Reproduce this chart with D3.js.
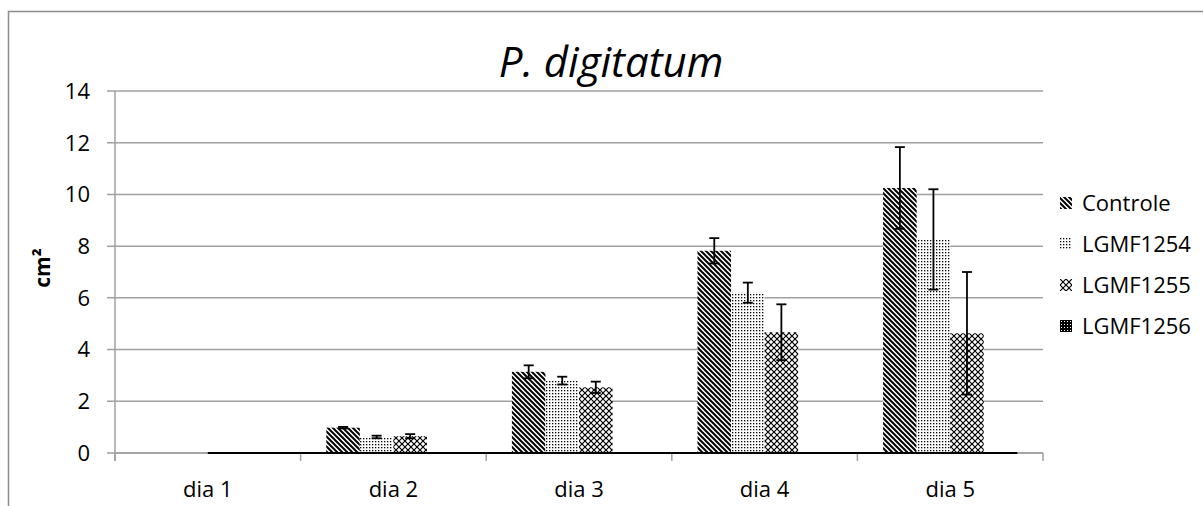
<!DOCTYPE html>
<html>
<head>
<meta charset="utf-8">
<script src="https://cdn.jsdelivr.net/npm/d3@7"></script>
<style>
  body { margin: 0; background: #fff; }
  svg { display: block; font-family: "Open Sans", sans-serif; }
</style>
</head>
<body>
<div id="app"></div>
<script>
// dados
const days = ['dia 1', 'dia 2', 'dia 3', 'dia 4', 'dia 5'];
const seriesNames = ['Controle', 'LGMF1254', 'LGMF1255', 'LGMF1256'];
const controle = [0, 0.98, 3.14, 7.82, 10.25];
const controleErr = [0, 0.03, 0.25, 0.49, 1.58];
const lgmf1254 = [0, 0.62, 2.80, 6.20, 8.26];
const lgmf1254Err = [0, 0.05, 0.15, 0.39, 1.94];
const lgmf1255 = [0, 0.65, 2.54, 4.67, 4.63];
const lgmf1255Err = [0, 0.08, 0.22, 1.08, 2.37];
const lgmf1256 = [0, 0, 0, 0, 0];
const lgmf1256Err = [0, 0, 0, 0, 0];
const yTicks = [0, 2, 4, 6, 8, 10, 12, 14];

const W = 1203, H = 506;
const margin = { left: 115, right: 160, top: 91, bottom: 53 };

const svg = d3.select('#app').append('svg').attr('width', W).attr('height', H);

// padrões
const defs = svg.append('defs');
const p0 = defs.append('pattern').attr('id', 'pat0').attr('patternUnits', 'userSpaceOnUse')
  .attr('width', 5).attr('height', 5);
p0.append('rect').attr('width', 5).attr('height', 5).attr('fill', '#fff');
p0.append('path').attr('d', 'M-1,-1 L6,6 M-1,4 L1,6 M4,-1 L6,1').attr('stroke', '#000').attr('stroke-width', 2);

const p1 = defs.append('pattern').attr('id', 'pat1').attr('patternUnits', 'userSpaceOnUse')
  .attr('width', 3).attr('height', 3);
p1.append('rect').attr('width', 3).attr('height', 3).attr('fill', '#fff');
p1.append('rect').attr('width', 1.3).attr('height', 1.3).attr('fill', '#000');

const p2 = defs.append('pattern').attr('id', 'pat2').attr('patternUnits', 'userSpaceOnUse')
  .attr('width', 6).attr('height', 6);
p2.append('rect').attr('width', 6).attr('height', 6).attr('fill', '#fff');
p2.append('path').attr('d', 'M0,0 L6,6 M6,0 L0,6').attr('stroke', '#000').attr('stroke-width', 1.2);

const p3 = defs.append('pattern').attr('id', 'pat3').attr('patternUnits', 'userSpaceOnUse')
  .attr('width', 3).attr('height', 3);
p3.append('rect').attr('width', 3).attr('height', 3).attr('fill', '#000');
p3.append('rect').attr('x', 1).attr('y', 1).attr('width', 1).attr('height', 1).attr('fill', '#fff');

const patterns = ['url(#pat0)', 'url(#pat1)', 'url(#pat2)', 'url(#pat3)'];

// moldura
svg.append('path').attr('d', `M8.5,${H} L8.5,11.5 L${W},11.5`)
  .attr('fill', 'none').attr('stroke', '#8c8c8c').attr('stroke-width', 1.5);

const x0 = d3.scaleBand().domain(days).range([margin.left, W - margin.right]).padding(0);
const x1 = d3.scaleBand().domain(seriesNames)
  .range([25.7, x0.bandwidth() - 25.7]).padding(0);
const y = d3.scaleLinear().domain([0, 14]).range([H - margin.bottom, margin.top]);

// grade
svg.append('g').selectAll('line').data(yTicks).join('line')
  .attr('x1', margin.left - 8).attr('x2', W - margin.right)
  .attr('y1', d => y(d)).attr('y2', d => y(d))
  .attr('stroke', '#a0a0a0').attr('stroke-width', 1.5);

// eixo y
svg.append('line').attr('x1', margin.left).attr('x2', margin.left)
  .attr('y1', y(14)).attr('y2', y(0) + 8)
  .attr('stroke', '#a0a0a0').attr('stroke-width', 1.5);
svg.append('g').selectAll('text').data(yTicks).join('text')
  .attr('x', 90).attr('y', d => y(d)).attr('dy', '0.36em')
  .attr('text-anchor', 'end').attr('font-size', 22).attr('fill', '#000')
  .text(d => d);

// eixo x ticks
const xTickPos = days.map(d => x0(d)).concat([x0(days[days.length - 1]) + x0.bandwidth()]);
svg.append('g').selectAll('line').data(xTickPos).join('line')
  .attr('x1', d => d).attr('x2', d => d)
  .attr('y1', y(0)).attr('y2', y(0) + 8)
  .attr('stroke', '#a0a0a0').attr('stroke-width', 1.5);
svg.append('g').selectAll('text').data(days).join('text')
  .attr('x', d => x0(d) + x0.bandwidth() / 2).attr('y', 489).attr('dy', '0.36em')
  .attr('text-anchor', 'middle').attr('font-size', 22).attr('fill', '#000')
  .text(d => d);

// barras
const values = [controle, lgmf1254, lgmf1255, lgmf1256];
const errs = [controleErr, lgmf1254Err, lgmf1255Err, lgmf1256Err];
const rows = [];
days.forEach((d, i) => {
  seriesNames.forEach((s, j) => {
    rows.push({ day: d, series: s, idx: j, v: values[j][i], e: errs[j][i] });
  });
});

const bars = svg.append('g');
bars.selectAll('rect').data(rows).join('rect')
  .attr('x', d => x0(d.day) + x1(d.series))
  .attr('y', d => y(d.v))
  .attr('width', x1.bandwidth())
  .attr('height', d => y(0) - y(d.v))
  .attr('fill', d => patterns[d.idx]);

// linha base
svg.append('line').attr('x1', margin.left).attr('x2', W - margin.right)
  .attr('y1', y(0)).attr('y2', y(0))
  .attr('stroke', '#a0a0a0').attr('stroke-width', 1.5);
svg.append('line').attr('x1', x0('dia 1') + x1('LGMF1255')).attr('x2', x0('dia 5') + x1('LGMF1256') + x1.bandwidth())
  .attr('y1', y(0)).attr('y2', y(0))
  .attr('stroke', '#000').attr('stroke-width', 1.8);

// barras de erro
const errRows = rows.filter(d => d.e > 0);
const eg = svg.append('g').attr('stroke', '#000').attr('stroke-width', 1.8);
errRows.forEach(d => {
  const cx = x0(d.day) + x1(d.series) + x1.bandwidth() / 2;
  eg.append('line').attr('x1', cx).attr('x2', cx).attr('y1', y(d.v + d.e)).attr('y2', y(d.v - d.e));
  eg.append('line').attr('x1', cx - 5).attr('x2', cx + 5).attr('y1', y(d.v + d.e)).attr('y2', y(d.v + d.e));
  eg.append('line').attr('x1', cx - 5).attr('x2', cx + 5).attr('y1', y(d.v - d.e)).attr('y2', y(d.v - d.e));
});

// título
svg.append('text').attr('x', 611).attr('y', 77)
  .attr('text-anchor', 'middle').attr('font-size', 42).attr('font-style', 'italic')
  .attr('fill', '#000').text('P. digitatum');

// rótulo eixo y
svg.append('text').attr('transform', 'translate(50,268) rotate(-90)')
  .attr('text-anchor', 'middle').attr('font-size', 21).attr('font-weight', 'bold')
  .attr('fill', '#000').text('cm²');

// legenda
const legend = svg.append('g').selectAll('g').data(seriesNames).join('g')
  .attr('transform', (d, i) => `translate(1060,${203 + i * 41})`);
legend.append('rect').attr('x', 0).attr('y', -6).attr('width', 12).attr('height', 12)
  .attr('fill', (d, i) => patterns[i]);
legend.append('text').attr('x', 22).attr('y', 0).attr('dy', '0.36em')
  .attr('font-size', 22).attr('fill', '#000').text(d => d);
</script>
</body>
</html>
